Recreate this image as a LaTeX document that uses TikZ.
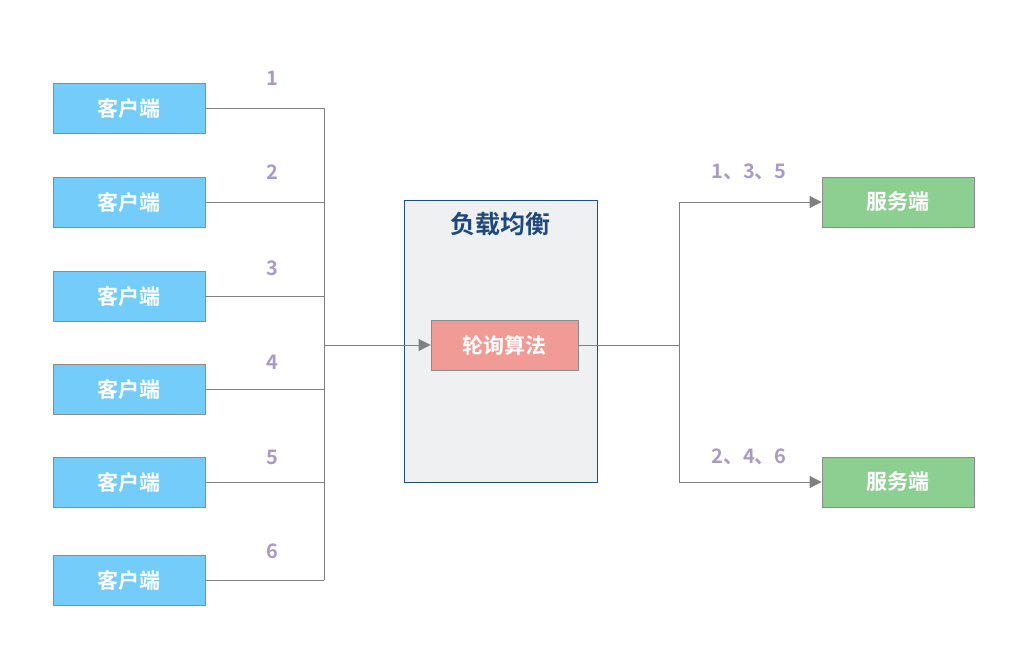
\documentclass[tikz,border=0pt]{standalone}
\usepackage{fontspec}
\newfontfamily\cjk{Noto Sans CJK SC}[BoldFont={Noto Sans CJK SC Bold}]
\usetikzlibrary{arrows.meta}
\definecolor{clientfill}{HTML}{73CCFA}
\definecolor{serverfill}{HTML}{8CCF91}
\definecolor{algofill}{HTML}{F19B96}
\definecolor{lbfill}{HTML}{EFF0F2}
\definecolor{lbborder}{HTML}{1F4E8C}
\definecolor{lbtitle}{HTML}{1F497D}
\definecolor{numcol}{HTML}{A99BC6}
\definecolor{linecol}{HTML}{808080}
\definecolor{boxborder}{HTML}{8C8C8C}
\tikzset{
  box/.style={draw=boxborder, line width=0.8pt, minimum width=152pt, minimum height=50pt, inner sep=0pt,
    font=\cjk\bfseries\fontsize{21}{24}\selectfont, text=white},
  client/.style={box, fill=clientfill},
  server/.style={box, fill=serverfill},
  algo/.style={box, fill=algofill, minimum width=147pt},
  num/.style={font=\cjk\bfseries\fontsize{20}{22}\selectfont, text=numcol, inner sep=0pt},
  conn/.style={draw=linecol, line width=0.8pt},
  arr/.style={conn, -{Triangle[length=12pt,width=12pt]}},
}
\begin{document}
\begin{tikzpicture}[x=1pt,y=-1pt]
\useasboundingbox (0,0) rectangle (1024,656);
% load balancer container
\node[draw=lbborder, fill=lbfill, line width=0.8pt, minimum width=193pt, minimum height=282pt, inner sep=0pt] (lb) at (500.5,341) {};
\node[font=\cjk\bfseries\fontsize{25}{28}\selectfont, text=lbtitle, inner sep=0pt] (lbt) at (500.5,224) {负载均衡};
\node[algo] (algo) at (504.5,345) {轮询算法};
% clients
\foreach \i/\y in {1/108,2/202,3/296,4/389,5/482,6/580}{
  \node[client] (c\i) at (129,\y) {客户端};
  \coordinate (j\i) at (324,\y);
  \draw[conn] (c\i.east) -- (j\i);
}
\foreach \i/\y in {1/78,2/172,3/268,4/362,5/457,6/551}{
  \node[num] (n\i) at (272,\y) {\i};
}
\draw[conn] (j1) -- (j6);
\coordinate (jin) at (324,345);
\draw[arr] (jin) -- (algo.west);
% servers
\node[server] (s1) at (898,202) {服务端};
\node[server] (s2) at (898,482) {服务端};
\coordinate (jout) at (679,345);
\coordinate (ja) at (679,202);
\coordinate (jb) at (679,482);
\draw[conn] (algo.east) -- (jout);
\draw[conn] (ja) -- (jb);
\draw[arr] (ja) -- (s1.west);
\draw[arr] (jb) -- (s2.west);
\node[num] (l1) at (749,172) {1、3、5};
\node[num] (l2) at (749,457) {2、4、6};
\end{tikzpicture}
\end{document}
